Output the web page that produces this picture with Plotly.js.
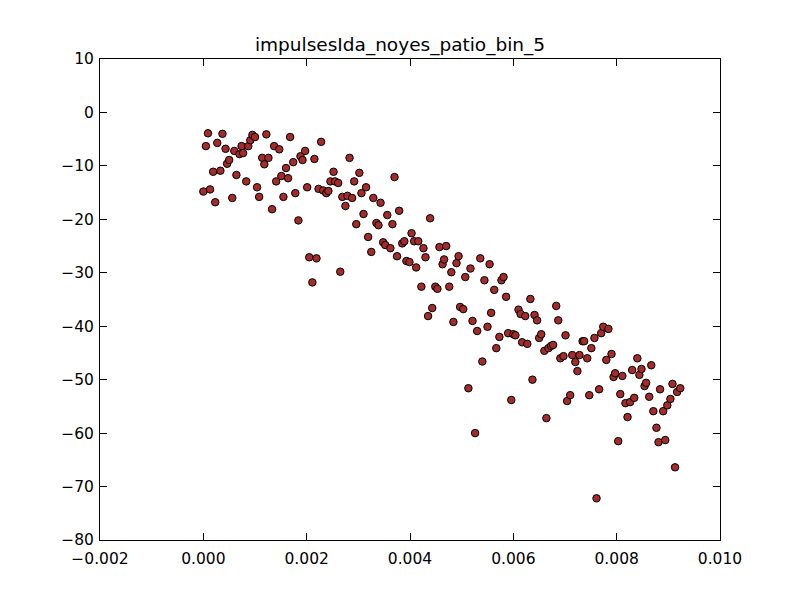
<!DOCTYPE html>
<html>
<head>
<meta charset="utf-8">
<script src="https://cdn.plot.ly/plotly-3.0.1.min.js"></script>
<style>body{margin:0;background:#fff}#chart{width:800px;height:600px}</style>
</head>
<body>
<div id="chart"></div>
<script>
// x values in units of 1e-3
const xMilli = [0.0,0.05,0.09,0.13,0.19,0.23,0.27,0.33,0.37,0.43,0.46,0.5,0.56,0.6,0.64,0.7,0.74,0.77,0.83,0.87,0.91,0.95,1.0,1.04,1.08,1.14,1.18,1.22,1.26,1.33,1.37,1.41,1.47,1.51,1.55,1.6,1.64,1.68,1.74,1.78,1.84,1.88,1.92,1.97,2.01,2.05,2.11,2.15,2.19,2.23,2.28,2.32,2.38,2.42,2.46,2.52,2.55,2.61,2.65,2.69,2.75,2.79,2.83,2.88,2.92,2.96,3.02,3.06,3.1,3.15,3.19,3.25,3.29,3.35,3.39,3.43,3.48,3.52,3.56,3.62,3.66,3.7,3.75,3.79,3.85,3.89,3.93,3.99,4.03,4.08,4.12,4.16,4.22,4.26,4.3,4.35,4.39,4.43,4.49,4.53,4.57,4.63,4.66,4.7,4.76,4.8,4.84,4.9,4.94,4.97,5.03,5.07,5.13,5.17,5.21,5.26,5.3,5.36,5.4,5.44,5.5,5.54,5.57,5.63,5.67,5.73,5.77,5.81,5.86,5.9,5.96,6.0,6.04,6.1,6.14,6.17,6.23,6.27,6.33,6.37,6.41,6.46,6.5,6.54,6.6,6.64,6.68,6.73,6.77,6.83,6.87,6.91,6.97,7.01,7.04,7.1,7.14,7.2,7.24,7.28,7.34,7.37,7.43,7.47,7.51,7.57,7.61,7.66,7.7,7.74,7.8,7.84,7.9,7.94,7.97,8.03,8.07,8.11,8.17,8.21,8.26,8.3,8.34,8.4,8.44,8.48,8.54,8.57,8.63,8.67,8.71,8.77,8.81,8.84,8.9,8.94,8.98,9.04,9.08,9.13,9.17,9.23];
const yVals = [-14.8,-6.3,-3.9,-14.4,-11.1,-16.8,-5.7,-10.9,-4.0,-6.8,-9.6,-8.9,-16,-7.2,-11.7,-7.8,-6.3,-7.6,-12.9,-6.3,-5.2,-4.2,-4.6,-14,-15.8,-8.5,-9.7,-4.1,-8.5,-18.1,-6.3,-12.9,-6.9,-11.9,-15.8,-10.4,-12.3,-4.6,-9.3,-15.1,-20.2,-8.2,-8.9,-7.2,-14,-27.1,-31.8,-8.7,-27.3,-14.3,-5.5,-14.6,-15.1,-14.7,-12.9,-11.1,-12.9,-13.2,-29.8,-15.8,-17.5,-15.6,-8.5,-16,-12.9,-20.9,-11.3,-15.1,-19,-14,-23.3,-26.1,-16,-20.7,-21.1,-16.9,-24.3,-24.8,-19.2,-25.4,-20.9,-12.1,-26.9,-18.4,-24.5,-24.1,-27.8,-28,-22.6,-24.1,-29,-24.1,-32.6,-25.4,-27.1,-38.1,-19.8,-36.6,-32.6,-33,-25.2,-28.4,-27.5,-25,-32.6,-29.9,-39.2,-28.2,-26.9,-36.4,-36.8,-30.8,-51.6,-29.2,-39,-60,-40.9,-27.3,-46.6,-31.4,-40.1,-28.4,-37.5,-33.2,-44.1,-42,-31.4,-30.8,-34.5,-41.3,-53.8,-41.5,-41.7,-36.9,-37.7,-43,-38.1,-43.3,-34.9,-50,-37.9,-38.9,-42.2,-41.5,-44.6,-57.2,-44.1,-43.7,-43.5,-36.2,-38.9,-46,-45.6,-41.7,-54,-52.9,-45.4,-46.7,-48.4,-45.4,-42.8,-42.8,-46,-52.9,-44.1,-42.2,-72.2,-51.8,-41.3,-40.1,-46.3,-40.5,-45.2,-49.5,-48.8,-61.5,-52.7,-49.3,-54.4,-57,-54.2,-48.2,-53.4,-46,-49.1,-48,-51.2,-50.6,-53.2,-47.3,-55.9,-59,-61.7,-51.8,-55.9,-61.3,-54.8,-53.6,-50.8,-66.4,-52.3,-51.6];
const xVals = xMilli.map(v => v / 1000);

const xTicks = [-0.002, 0, 0.002, 0.004, 0.006, 0.008, 0.010];
const xTickText = ['\u22120.002', '0.000', '0.002', '0.004', '0.006', '0.008', '0.010'];
const yTicks = [10, 0, -10, -20, -30, -40, -50, -60, -70, -80];
const yTickText = yTicks.map(v => v < 0 ? '\u2212' + Math.abs(v) : String(v));

const axisBase = {
    showgrid: false, zeroline: false, showline: true, mirror: 'ticks',
    linecolor: '#000', linewidth: 1, ticks: 'inside', ticklen: 7, tickcolor: '#000',
    tickfont: { family: 'DejaVu Sans', size: 15.5, color: '#000' }
};

const layout = {
    paper_bgcolor: '#fff', plot_bgcolor: '#fff',
    width: 800, height: 600,
    margin: { l: 100, r: 80, t: 59, b: 60 },
    showlegend: false,
    title: { text: 'impulsesIda_noyes_patio_bin_5', x: 0.5, xanchor: 'center', y: 0.915, yanchor: 'bottom',
             font: { family: 'DejaVu Sans', size: 18.5, color: '#000' } },
    xaxis: { ...axisBase, range: [-0.002, 0.010], tickvals: xTicks, ticktext: xTickText, ticklabelstandoff: 4 },
    yaxis: { ...axisBase, range: [-80, 10], tickvals: yTicks, ticktext: yTickText, ticklabelstandoff: 2 }
};

Plotly.newPlot('chart', [{
    x: xVals, y: yVals, type: 'scatter', mode: 'markers',
    marker: { size: 7.5, color: '#a52a2a', line: { color: '#000', width: 1 } }
}], layout, { displayModeBar: false, staticPlot: true });
</script>
</body>
</html>
